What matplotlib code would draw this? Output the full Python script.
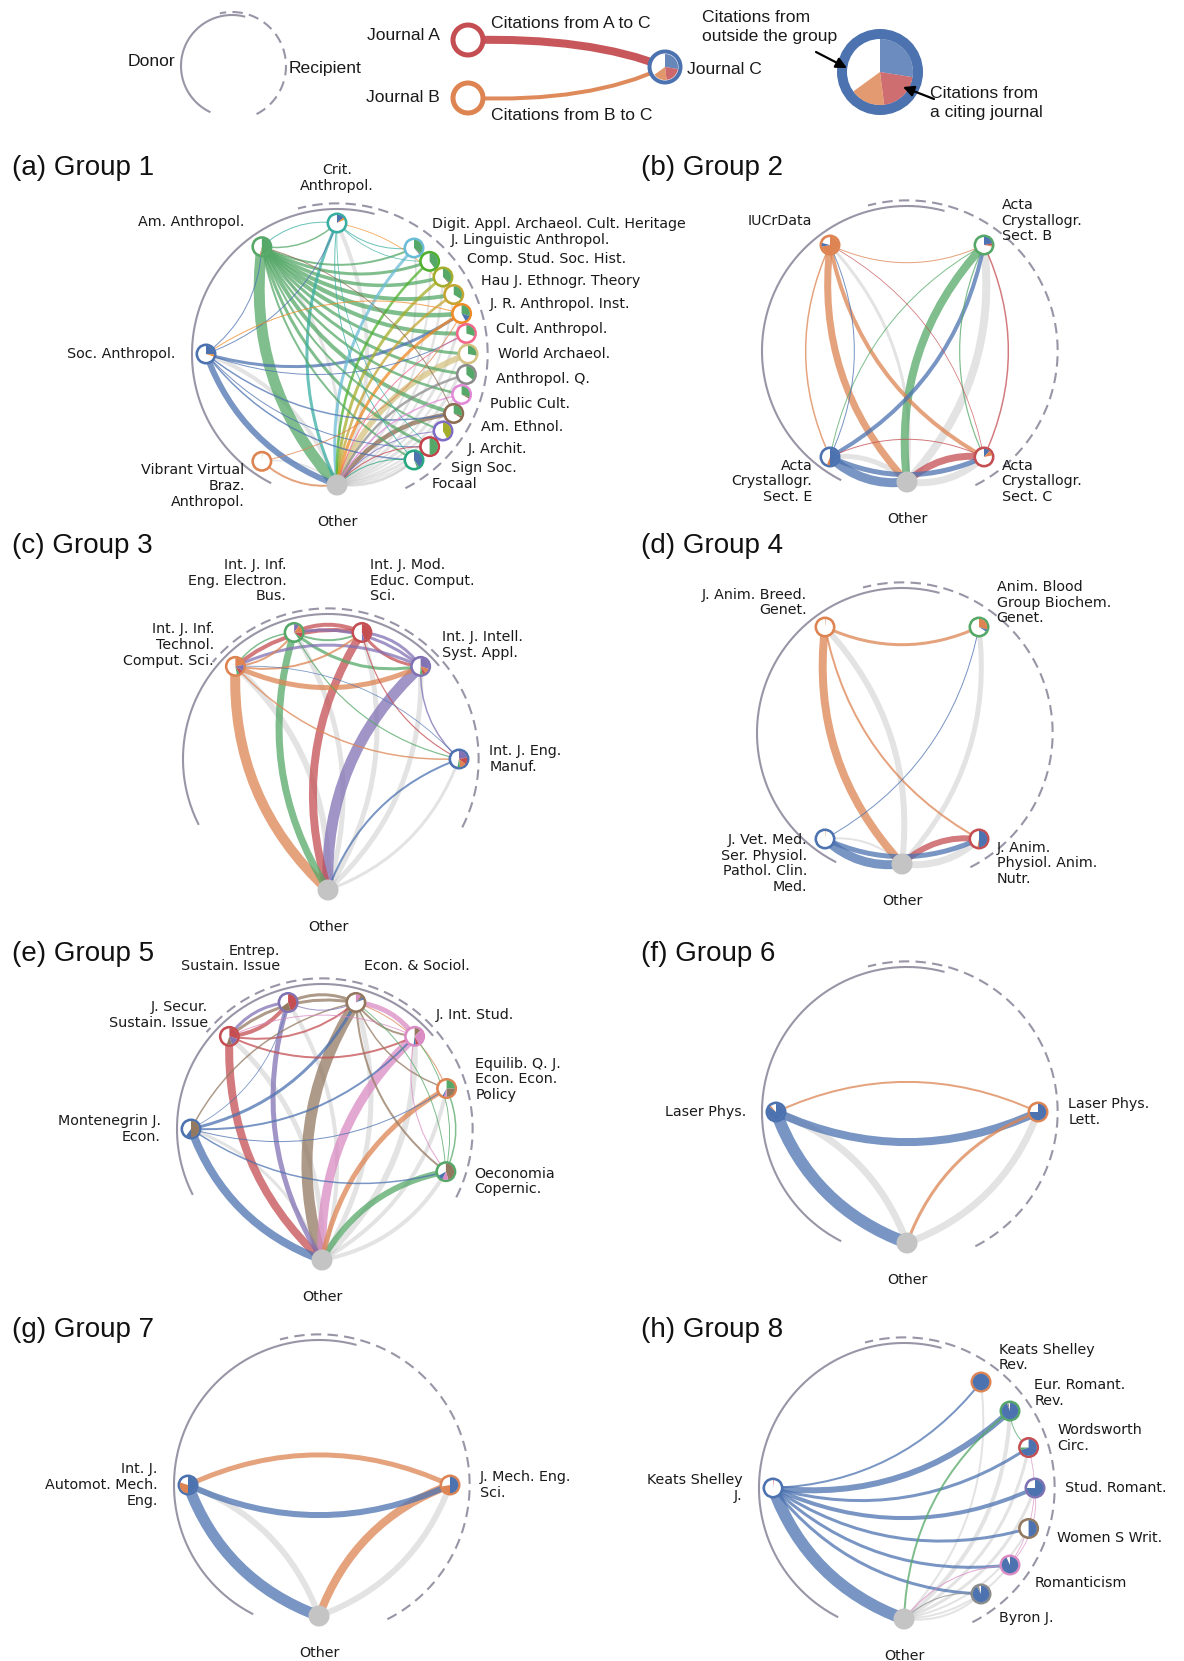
import numpy as np
import matplotlib
matplotlib.use('Agg')
import matplotlib.pyplot as plt
from matplotlib.patches import Circle, PathPatch
from matplotlib.path import Path

# ------------------------------------------------------------------ colours
BLUE = '#4c72b0'; ORANGE = '#dd8452'; GREEN = '#55a868'; RED = '#c44e52'
PURPLE = '#8172b3'; BROWN = '#937860'; PINK = '#da8bc3'; GREY = '#8c8c8c'
OTHER_FILL = '#c4c4c4'; EDGE_GREY = '#bdbdbd'; ARC_COL = '#9a95a6'

# ------------------------------------------------------------------ Group 1
g1_codes = ['CA', 'AA', 'SA', 'VV', 'OT', 'DA', 'JL', 'CS', 'HJ', 'JR', 'CU',
            'WA', 'AQ', 'PC', 'AE', 'JA', 'SS', 'FO']
g1_labels = ['Crit.\nAnthropol.', 'Am. Anthropol.', 'Soc. Anthropol.',
             'Vibrant Virtual\nBraz.\nAnthropol.', 'Other',
             'Digit. Appl. Archaeol. Cult. Heritage', 'J. Linguistic Anthropol.',
             'Comp. Stud. Soc. Hist.', 'Hau J. Ethnogr. Theory',
             'J. R. Anthropol. Inst.', 'Cult. Anthropol.', 'World Archaeol.',
             'Anthropol. Q.', 'Public Cult.', 'Am. Ethnol.', 'J. Archit.',
             'Sign Soc.', 'Focaal']
g1_angles = [90, 125, 180, 235, 270, 54, 45, 36, 27, 18, 9, 0, -9, -18, -27,
             -36, -45, -54]
g1_colors = ['#3aaea3', GREEN, BLUE, ORANGE, None, '#6bbcd6', '#4fb02e',
             '#a5ae2a', '#c5a532', '#f08a24', '#f2668a', '#d5c280', GREY,
             '#e28ad8', '#8c6d52', '#7d6bc4', '#c5414a', '#26a77f']
g1_pies = {
    'CA': [('SA', 0.14), ('JR', 0.04)], 'AA': [('AA', 0.52), ('VV', 0.02)],
    'SA': [('SA', 0.26), ('JR', 0.04)], 'VV': [('WA', 0.012)],
    'DA': [('AA', 0.36), ('AQ', 0.03)], 'JL': [('AA', 0.40)],
    'CS': [('AA', 0.36), ('AE', 0.02)], 'HJ': [('AA', 0.34)],
    'JR': [('AA', 0.30), ('SA', 0.12)], 'CU': [('AA', 0.30)],
    'WA': [('AA', 0.28)], 'AQ': [('AA', 0.36)],
    'PC': [('AA', 0.30), ('AE', 0.03)], 'AE': [('AA', 0.30), ('AE', 0.04)],
    'JA': [('CS', 0.42)], 'SS': [('AA', 0.50)],
    'FO': [('SA', 0.40), ('AA', 0.04)],
}
g1_edges = [
    ('AA', 'OT', 11), ('AA', 'CA', 1.5), ('AA', 'DA', 2), ('AA', 'JL', 3),
    ('AA', 'CS', 3.5), ('AA', 'HJ', 4), ('AA', 'JR', 4.5), ('AA', 'CU', 4),
    ('AA', 'WA', 3), ('AA', 'AQ', 3), ('AA', 'PC', 2.5), ('AA', 'AE', 4),
    ('AA', 'JA', 2), ('AA', 'SS', 3), ('AA', 'FO', 2),
    ('SA', 'OT', 6), ('SA', 'JR', 3), ('SA', 'CA', 1), ('SA', 'AA', 1),
    ('SA', 'AE', 1.5), ('SA', 'FO', 1.5), ('SA', 'CU', 1), ('SA', 'SS', 1),
    ('CA', 'OT', 3), ('CA', 'AA', 1), ('CA', 'DA', 1), ('CA', 'FO', 1),
    ('CA', 'SS', 0.8), ('CA', 'JL', 0.8),
    ('DA', 'OT', 3), ('JL', 'OT', 2.5), ('CS', 'OT', 3), ('HJ', 'OT', 2.5),
    ('JR', 'OT', 3), ('JR', 'SA', 1), ('JR', 'CA', 0.8), ('CU', 'OT', 1),
    ('WA', 'OT', 6), ('AQ', 'OT', 2.5), ('PC', 'OT', 1.5), ('AE', 'OT', 4.5),
    ('AE', 'AA', 1), ('JA', 'OT', 1), ('SS', 'OT', 1), ('FO', 'OT', 1),
    ('VV', 'OT', 2), ('VV', 'JR', 1),
    ('OT', 'AA', 3), ('OT', 'SA', 4), ('OT', 'CA', 4), ('OT', 'VV', 1.5),
    ('OT', 'DA', 2), ('OT', 'JL', 2), ('OT', 'CS', 2.5), ('OT', 'HJ', 2),
    ('OT', 'JR', 3), ('OT', 'CU', 2), ('OT', 'WA', 3), ('OT', 'AQ', 2),
    ('OT', 'PC', 2), ('OT', 'AE', 3), ('OT', 'JA', 1.5), ('OT', 'SS', 2),
    ('OT', 'FO', 2),
]

# ------------------------------------------------------------------ Group 2
g2_codes = ['IU', 'AB', 'AE', 'AC', 'OT']
g2_labels = ['IUCrData', 'Acta\nCrystallogr.\nSect. B', 'Acta\nCrystallogr.\nSect. E',
             'Acta\nCrystallogr.\nSect. C', 'Other']
g2_angles = [126, 54, 234, 306, 270]
g2_colors = [ORANGE, GREEN, BLUE, RED, None]
g2_pies = {'IU': [('IU', 0.72), ('AE', 0.07)],
           'AB': [('AE', 0.22), ('AC', 0.04), ('IU', 0.02)],
           'AE': [('AE', 0.50), ('IU', 0.06)],
           'AC': [('AE', 0.12), ('IU', 0.10)]}
g2_edges = [
    ('IU', 'OT', 7), ('IU', 'AC', 4), ('IU', 'AE', 1.5), ('IU', 'AB', 1),
    ('AB', 'OT', 8), ('AB', 'AE', 1), ('AB', 'AC', 1.2),
    ('AE', 'AB', 4), ('AE', 'IU', 1), ('AE', 'OT', 9), ('AE', 'AC', 5),
    ('AC', 'OT', 7), ('AC', 'AB', 1.5), ('AC', 'AE', 1), ('AC', 'IU', 0.8),
    ('OT', 'IU', 3), ('OT', 'AB', 8), ('OT', 'AE', 5), ('OT', 'AC', 7),
]

# ------------------------------------------------------------------ Group 3
g3_codes = ['TE', 'IE', 'ME', 'IS', 'EM', 'OT']
g3_labels = ['Int. J. Inf.\nTechnol.\nComput. Sci.', 'Int. J. Inf.\nEng. Electron.\nBus.',
             'Int. J. Mod.\nEduc. Comput.\nSci.', 'Int. J. Intell.\nSyst. Appl.',
             'Int. J. Eng.\nManuf.', 'Other']
g3_angles = [135, 105, 75, 45, 0, 270]
g3_colors = [ORANGE, GREEN, RED, PURPLE, BLUE, None]
g3_pies = {'TE': [('TE', 0.22), ('IS', 0.12), ('ME', 0.08), ('IE', 0.05)],
           'IE': [('IS', 0.10), ('TE', 0.15), ('ME', 0.10), ('IE', 0.05)],
           'ME': [('ME', 0.45), ('IS', 0.05)],
           'IS': [('IS', 0.30), ('TE', 0.10), ('ME', 0.06), ('IE', 0.05)],
           'EM': [('IS', 0.22), ('ME', 0.14), ('TE', 0.12), ('IE', 0.05)]}
g3_edges = [
    ('TE', 'OT', 10), ('IE', 'OT', 7), ('ME', 'OT', 8), ('IS', 'OT', 11),
    ('EM', 'OT', 2),
    ('TE', 'IS', 5), ('TE', 'ME', 2), ('TE', 'IE', 2), ('TE', 'EM', 1.5),
    ('IE', 'IS', 3), ('IE', 'ME', 2), ('IE', 'TE', 1.5), ('IE', 'EM', 1.2),
    ('ME', 'IE', 4), ('ME', 'TE', 4), ('ME', 'IS', 3), ('ME', 'EM', 1.2),
    ('IS', 'ME', 3), ('IS', 'IE', 3), ('IS', 'TE', 3), ('IS', 'EM', 1.5),
    ('EM', 'TE', 0.8),
    ('OT', 'TE', 6), ('OT', 'IE', 5), ('OT', 'ME', 5), ('OT', 'IS', 5),
    ('OT', 'EM', 3),
]

# ------------------------------------------------------------------ Group 4
g4_codes = ['BR', 'BG', 'VM', 'PH', 'OT']
g4_labels = ['J. Anim. Breed.\nGenet.', 'Anim. Blood\nGroup Biochem.\nGenet.',
             'J. Vet. Med.\nSer. Physiol.\nPathol. Clin.\nMed.',
             'J. Anim.\nPhysiol. Anim.\nNutr.', 'Other']
g4_angles = [126, 54, 234, 306, 270]
g4_colors = [ORANGE, GREEN, BLUE, RED, None]
g4_pies = {'BR': [('BR', 0.012)], 'BG': [('BR', 0.30), ('VM', 0.04)],
           'VM': [('BR', 0.01)], 'PH': [('VM', 0.50), ('BR', 0.03)]}
g4_edges = [
    ('BR', 'OT', 8), ('BR', 'BG', 3), ('BR', 'PH', 2),
    ('VM', 'BG', 1), ('VM', 'OT', 9), ('VM', 'PH', 5),
    ('PH', 'OT', 6),
    ('OT', 'BR', 6), ('OT', 'BG', 5), ('OT', 'PH', 7), ('OT', 'VM', 2),
]

# ------------------------------------------------------------------ Group 5
g5_codes = ['JS', 'EN', 'ES', 'JI', 'EQ', 'OE', 'MJ', 'OT']
g5_labels = ['J. Secur.\nSustain. Issue', 'Entrep.\nSustain. Issue', 'Econ. & Sociol.',
             'J. Int. Stud.', 'Equilib. Q. J.\nEcon. Econ.\nPolicy',
             'Oeconomia\nCopernic.', 'Montenegrin J.\nEcon.', 'Other']
g5_angles = [135, 105, 75, 45, 18, -19, 180, 270]
g5_colors = [RED, PURPLE, BROWN, PINK, ORANGE, GREEN, BLUE, None]
g5_pies = {'JS': [('JS', 0.30), ('EN', 0.15), ('ES', 0.10)],
           'EN': [('JS', 0.45), ('ES', 0.20)],
           'ES': [('JI', 0.10), ('ES', 0.05), ('MJ', 0.04)],
           'JI': [('ES', 0.12), ('JI', 0.30), ('JS', 0.06), ('MJ', 0.04)],
           'EQ': [('OE', 0.25), ('ES', 0.25), ('JI', 0.05), ('MJ', 0.03)],
           'OE': [('ES', 0.45), ('JI', 0.12), ('MJ', 0.10)],
           'MJ': [('ES', 0.50), ('MJ', 0.10)]}
g5_edges = [
    ('JS', 'OT', 8), ('EN', 'OT', 5), ('ES', 'OT', 11), ('JI', 'OT', 9),
    ('EQ', 'OT', 5), ('OE', 'OT', 6), ('MJ', 'OT', 8),
    ('JS', 'EN', 4), ('JS', 'ES', 2), ('JS', 'JI', 2),
    ('EN', 'JS', 3), ('EN', 'ES', 1),
    ('ES', 'EN', 3), ('ES', 'JS', 3), ('ES', 'JI', 2), ('ES', 'EQ', 1.5),
    ('ES', 'OE', 2), ('ES', 'MJ', 1.5),
    ('JI', 'ES', 5), ('JI', 'JS', 1), ('JI', 'OE', 1),
    ('EQ', 'ES', 1),
    ('OE', 'ES', 1), ('OE', 'EQ', 1.5), ('OE', 'JI', 1),
    ('MJ', 'ES', 3), ('MJ', 'JI', 2), ('MJ', 'EQ', 1), ('MJ', 'OE', 1.5),
    ('MJ', 'EN', 0.8),
    ('OT', 'JS', 5), ('OT', 'EN', 4), ('OT', 'ES', 5), ('OT', 'JI', 6),
    ('OT', 'EQ', 4), ('OT', 'OE', 4), ('OT', 'MJ', 3),
]

# ------------------------------------------------------------------ Group 6
g6_codes = ['LP', 'LL', 'OT']
g6_labels = ['Laser Phys.', 'Laser Phys.\nLett.', 'Other']
g6_angles = [180, 0, 270]
g6_colors = [BLUE, ORANGE, None]
g6_pies = {'LP': [('LP', 0.86), ('LL', 0.03)], 'LL': [('LP', 0.75)]}
g6_edges = [('LP', 'LL', 8), ('LL', 'LP', 2), ('LP', 'OT', 12), ('LL', 'OT', 3),
            ('OT', 'LP', 7), ('OT', 'LL', 7)]

# ------------------------------------------------------------------ Group 7
g7_codes = ['AM', 'ME', 'OT']
g7_labels = ['Int. J.\nAutomot. Mech.\nEng.', 'J. Mech. Eng.\nSci.', 'Other']
g7_angles = [180, 0, 270]
g7_colors = [BLUE, ORANGE, None]
g7_pies = {'AM': [('AM', 0.50), ('ME', 0.30)], 'ME': [('AM', 0.50), ('ME', 0.22)]}
g7_edges = [('AM', 'ME', 6), ('ME', 'AM', 5), ('AM', 'OT', 11), ('ME', 'OT', 8),
            ('OT', 'AM', 6), ('OT', 'ME', 6)]

# ------------------------------------------------------------------ Group 8
g8_codes = ['KJ', 'KR', 'ER', 'WC', 'SR', 'WW', 'RO', 'BJ', 'OT']
g8_labels = ['Keats Shelley\nJ.', 'Keats Shelley\nRev.', 'Eur. Romant.\nRev.',
             'Wordsworth\nCirc.', 'Stud. Romant.', 'Women S Writ.', 'Romanticism',
             'Byron J.', 'Other']
g8_angles = [180, 54, 36, 18, 0, -18, -36, -54, 270]
g8_colors = [BLUE, ORANGE, GREEN, RED, PURPLE, BROWN, PINK, GREY, None]
g8_pies = {'KJ': [('WC', 0.012)], 'KR': [('KJ', 1.0)],
           'ER': [('KJ', 0.94), ('BJ', 0.03)], 'WC': [('KJ', 0.70), ('ER', 0.05)],
           'SR': [('KJ', 0.75)], 'WW': [('KJ', 0.50)],
           'RO': [('KJ', 0.93)], 'BJ': [('KJ', 0.92), ('BJ', 0.04)]}
g8_edges = [
    ('KJ', 'OT', 12), ('KJ', 'KR', 2), ('KJ', 'ER', 6), ('KJ', 'WC', 3),
    ('KJ', 'SR', 4), ('KJ', 'WW', 3), ('KJ', 'RO', 3), ('KJ', 'BJ', 3),
    ('ER', 'OT', 2), ('ER', 'WC', 1), ('RO', 'OT', 1), ('RO', 'SR', 0.8),
    ('RO', 'WC', 0.8), ('BJ', 'OT', 1),
    ('OT', 'KR', 2), ('OT', 'ER', 4), ('OT', 'WC', 3), ('OT', 'SR', 3),
    ('OT', 'WW', 2), ('OT', 'RO', 2), ('OT', 'BJ', 2),
]

panel_titles = ['(a) Group 1', '(b) Group 2', '(c) Group 3', '(d) Group 4',
                '(e) Group 5', '(f) Group 6', '(g) Group 7', '(h) Group 8']

# legend pie of "Journal C": shares of self, A and B citations
leg_pie_colors = [BLUE, RED, ORANGE]
leg_pie_shares = [0.275, 0.205, 0.17]

# ------------------------------------------------------------------ layout (pixels)
W, H = 1184, 1661
R = 131.0
NODE_R = 10.5
RING = 2.6
PX = 0.72  # points per pixel at 100 dpi
centers = [(337, 354), (907, 351), (328, 759), (902, 733), (322, 1129),
           (907, 1112), (319, 1485), (904, 1488)]
title_pos = [(12, 168), (641, 168), (12, 546), (641, 546), (12, 954), (641, 954),
             (12, 1330), (641, 1330)]
arcs_wide = ((75, 243), (-63, 105))
arcs_narrow = ((40, 207), (-27, 140))
panel_arcs = [arcs_wide, arcs_wide, arcs_narrow, arcs_wide, arcs_narrow,
              arcs_wide, arcs_wide, arcs_wide]

fig = plt.figure(figsize=(W / 100, H / 100), dpi=100)
ax = fig.add_axes([0, 0, 1, 1])
ax.set_xlim(0, W)
ax.set_ylim(H, 0)
ax.set_aspect('equal')
ax.axis('off')

LABEL_FONT = dict(family='DejaVu Sans', size=10.3, color='#1a1a1a')
LEG_FONT = dict(family='Liberation Sans', size=12.6, color='#1a1a1a')


def pt(c, ang, r):
    a = np.radians(ang)
    return np.array([c[0] + r * np.cos(a), c[1] - r * np.sin(a)])


def curve(p0, p2, k=0.23):
    p0 = np.asarray(p0, float); p2 = np.asarray(p2, float)
    d = p2 - p0
    rp = np.array([-d[1], d[0]])  # right-hand side of travel (screen coords)
    c = (p0 + p2) / 2 + k * rp
    return Path([p0, c, p2], [Path.MOVETO, Path.CURVE3, Path.CURVE3])


def wedge(x, y, r, a0, a1, color, z=6, alpha=1.0):
    t = np.radians(np.linspace(a0, a1, max(3, int(abs(a1 - a0) / 3) + 2)))
    xs = np.r_[x, x + r * np.cos(t), x]
    ys = np.r_[y, y - r * np.sin(t), y]
    ax.fill(xs, ys, color=color, lw=0, zorder=z, alpha=alpha)


def draw_arc(c, r, a0, a1, dashed):
    t = np.radians(np.linspace(a0, a1, 200))
    ax.plot(c[0] + r * np.cos(t), c[1] - r * np.sin(t), color=ARC_COL,
            lw=1.5, ls=(0, (5, 3)) if dashed else '-', solid_capstyle='butt',
            zorder=1)


def draw_group(idx, codes, labels, angles, colors, pies, edges):
    c = centers[idx]
    (s0, s1), (d0, d1) = panel_arcs[idx]
    draw_arc(c, R * 1.107, s0, s1, False)
    draw_arc(c, R * 1.15, d0, d1, True)
    P = {k: pt(c, a, R) for k, a in zip(codes, angles)}
    col = dict(zip(codes, colors))
    grey = [e for e in edges if e[0] == 'OT']
    colored = sorted([e for e in edges if e[0] != 'OT'], key=lambda e: -e[2])
    for s, t, w in sorted(grey, key=lambda e: -e[2]):
        ax.add_patch(PathPatch(curve(P[s], P[t]), fill=False, ec=EDGE_GREY,
                               alpha=0.42, lw=w * PX, zorder=2, capstyle='butt'))
    for s, t, w in colored:
        ax.add_patch(PathPatch(curve(P[s], P[t]), fill=False, ec=col[s],
                               alpha=0.75, lw=w * PX, zorder=3, capstyle='butt'))
    for k, a, lab in zip(codes, angles, labels):
        x, y = P[k]
        if k == 'OT':
            ax.add_patch(Circle((x, y), NODE_R, fc=OTHER_FILL, ec='none', zorder=5))
        else:
            ax.add_patch(Circle((x, y), NODE_R - RING / 2, fc='white', ec=col[k],
                                lw=RING * PX, zorder=5))
            cum = 0.0
            for src, f in pies.get(k, []):
                wedge(x, y, NODE_R - RING + 0.3, 90 - cum * 360,
                      90 - (cum + f) * 360, col[src], z=6)
                cum += f
        lx, ly = pt(c, a, R * 1.23)
        ca, sa = np.cos(np.radians(a)), np.sin(np.radians(a))
        ha = 'center' if abs(ca) < 0.05 else ('left' if ca > 0 else 'right')
        va = 'bottom' if sa > 0.95 else ('top' if sa < -0.95 else 'center')
        ax.text(lx, ly, lab, ha=ha, va=va, linespacing=1.15, zorder=8,
                **LABEL_FONT)
    tx, ty = title_pos[idx]
    ax.text(tx, ty, panel_titles[idx], ha='left', va='center',
            family='Liberation Sans', size=20, color='#111111')


draw_group(0, g1_codes, g1_labels, g1_angles, g1_colors, g1_pies, g1_edges)
draw_group(1, g2_codes, g2_labels, g2_angles, g2_colors, g2_pies, g2_edges)
draw_group(2, g3_codes, g3_labels, g3_angles, g3_colors, g3_pies, g3_edges)
draw_group(3, g4_codes, g4_labels, g4_angles, g4_colors, g4_pies, g4_edges)
draw_group(4, g5_codes, g5_labels, g5_angles, g5_colors, g5_pies, g5_edges)
draw_group(5, g6_codes, g6_labels, g6_angles, g6_colors, g6_pies, g6_edges)
draw_group(6, g7_codes, g7_labels, g7_angles, g7_colors, g7_pies, g7_edges)
draw_group(7, g8_codes, g8_labels, g8_angles, g8_colors, g8_pies, g8_edges)

# ------------------------------------------------------------------ legend
lc = (232, 66)
draw_arc(lc, 51, 75, 245, False)
draw_arc(lc, 54, -63, 103, True)
ax.text(175, 61, 'Donor', ha='right', va='center', **LEG_FONT)
ax.text(289, 68, 'Recipient', ha='left', va='center', **LEG_FONT)

A = np.array([468, 40.]); B = np.array([468, 98.]); C = np.array([665, 67.])
for p0, ctrl, p2, colr, w in [(A, (590, 37), C, RED, 8), (B, (590, 103), C, ORANGE, 4)]:
    ax.add_patch(PathPatch(Path([p0, ctrl, p2], [1, 3, 3]), fill=False, ec=colr,
                           lw=w * PX, alpha=0.95, zorder=3, capstyle='butt'))
for p, colr in [(A, RED), (B, ORANGE)]:
    ax.add_patch(Circle(p, 15, fc='white', ec=colr, lw=5 * PX, zorder=5))
ax.add_patch(Circle(C, 15.5, fc='white', ec=BLUE, lw=4 * PX, zorder=5))
cum = 0
for colr, f in zip(leg_pie_colors, leg_pie_shares):
    wedge(C[0], C[1], 13, 90 - cum * 360, 90 - (cum + f) * 360, colr, z=6,
          alpha=0.85)
    cum += f
ax.text(440, 35, 'Journal A', ha='right', va='center', **LEG_FONT)
ax.text(440, 98, 'Journal B', ha='right', va='center', **LEG_FONT)
ax.text(687, 70, 'Journal C', ha='left', va='center', **LEG_FONT)
ax.text(491, 23, 'Citations from A to C', ha='left', va='center', **LEG_FONT)
ax.text(491, 116, 'Citations from B to C', ha='left', va='center', **LEG_FONT)

BC = np.array([880, 72.])
ax.add_patch(Circle(BC, 38, fc='white', ec=BLUE, lw=10 * PX, zorder=5))
cum = 0
for colr, f in zip(leg_pie_colors, leg_pie_shares):
    wedge(BC[0], BC[1], 33, 90 - cum * 360, 90 - (cum + f) * 360, colr, z=6,
          alpha=0.82)
    cum += f
ax.text(702, 27, 'Citations from\noutside the group', ha='left', va='center',
        linespacing=1.3, **LEG_FONT)
ax.text(930, 103, 'Citations from\na citing journal', ha='left', va='center',
        linespacing=1.3, **LEG_FONT)
ax.annotate('', xy=(847, 68), xytext=(816, 52),
            arrowprops=dict(arrowstyle='-|>', color='black', lw=1.6,
                            mutation_scale=16, shrinkA=0, shrinkB=0), zorder=9)
ax.annotate('', xy=(903, 87), xytext=(934, 99),
            arrowprops=dict(arrowstyle='-|>', color='black', lw=1.6,
                            mutation_scale=16, shrinkA=0, shrinkB=0), zorder=9)

fig.savefig('out.png', dpi=100, facecolor='white')
